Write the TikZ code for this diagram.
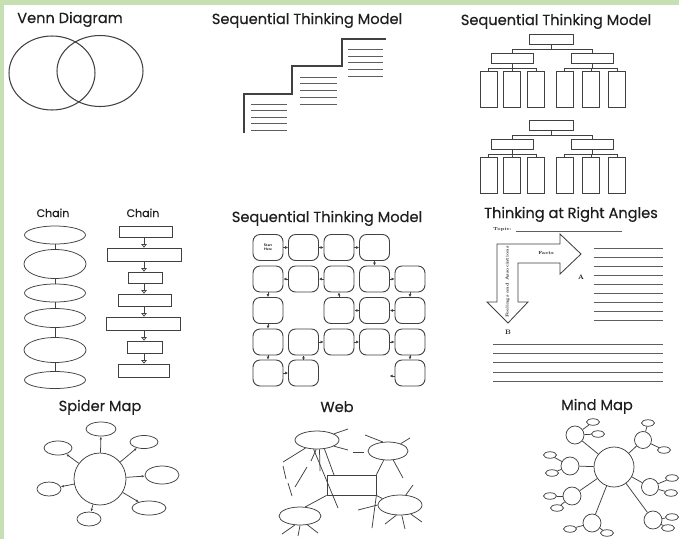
\documentclass[tikz,border=0pt]{standalone}
\usepackage{fontspec}
\newfontfamily\tfont[FakeBold=0.35]{Poppins}
\usetikzlibrary{shapes.geometric,arrows.meta,calc}
\definecolor{bandgreen}{RGB}{198,224,180}
\definecolor{ink}{RGB}{65,65,65}
\definecolor{txt}{RGB}{30,30,30}
\tikzset{
  ln/.style={draw=ink, line width=0.75pt},
  ttl/.style={font=\tfont\fontsize{14.6}{16}\selectfont, text=txt, anchor=base, inner sep=0pt},
  ctl/.style={font=\tfont\fontsize{11}{12}\selectfont, text=txt, anchor=base, inner sep=0pt},
  ell/.style={ellipse, draw=ink, line width=0.75pt, inner sep=0pt},
  circ/.style={circle, draw=ink, line width=0.75pt, inner sep=0pt},
  box/.style={rectangle, draw=ink, line width=0.75pt, inner sep=0pt},
  rbox/.style={rectangle, rounded corners=7pt, draw=ink, line width=0.9pt, minimum width=30pt, minimum height=26pt, inner sep=0pt},
  sarr/.style={draw=ink, line width=1pt, -{Latex[length=3pt,width=3pt]}},
  carr/.style={ln, -{Triangle[open,length=3.5pt,width=5.5pt]}},
  rline/.style={draw=ink!85, line width=0.65pt},
  tiny/.style={font=\bfseries\fontsize{4.5}{5}\selectfont, text=txt, inner sep=0pt},
}
\begin{document}
\begin{tikzpicture}[x=1pt,y=-1pt]
\useasboundingbox (0,0) rectangle (679,539);
\fill[white] (0,0) rectangle (679,539);
\fill[bandgreen] (0,0) rectangle (679,5);
\fill[bandgreen] (0,0) rectangle (3.5,539);

% ---------- Venn Diagram
\node[ttl] (tvenn) at (70,23) {Venn Diagram};
\node[ell, line width=1.05pt, minimum width=86pt, minimum height=74pt] (vl) at (52,73) {};
\node[ell, line width=1.05pt, minimum width=86pt, minimum height=71pt] (vr) at (100,71) {};

% ---------- Sequential Thinking Model (stairs)
\node[ttl] (tstair) at (307,24) {Sequential Thinking Model};
\draw[ink, line width=1.6pt] (244,133) -- (244,94) -- (292,94) -- (292,66) -- (342,66) -- (342,39) -- (386,39);
\foreach \y in {104,110.5,117,123.5,130.5} \draw[rline] (251,\y) -- (287,\y);
\foreach \y in {77,83.5,90.5,97,104} \draw[rline] (300,\y) -- (337,\y);
\foreach \y in {49,56,62.5,69,76.5} \draw[rline] (348,\y) -- (383,\y);

% ---------- Sequential Thinking Model (trees)
\node[ttl] (ttree) at (556,25) {Sequential Thinking Model};
\foreach \k/\dy in {a/0,b/86.5}{
  \node[box, minimum width=44pt, minimum height=10pt] (t\k) at (551,39+\dy) {};
  \node[box, minimum width=42pt, minimum height=10pt] (m\k1) at (512,58+\dy) {};
  \node[box, minimum width=42pt, minimum height=10pt] (m\k2) at (592,58+\dy) {};
  \foreach \i/\x in {1/488.5,2/512,3/536,4/564.5,5/591,6/617}
    \node[box, minimum width=17pt, minimum height=36pt] (l\k\i) at (\x,89+\dy) {};
  \draw[ln] (t\k.south) -- ++(0,4.5) -| (m\k1.north);
  \draw[ln] (t\k.south) -- ++(0,4.5) -| (m\k2.north);
  \foreach \i in {1,2,3} \draw[ln] (m\k1.south) -- ++(0,4.5) -| (l\k\i.north);
  \foreach \i in {4,5,6} \draw[ln] (m\k2.south) -- ++(0,4.5) -| (l\k\i.north);
}

% ---------- Chain (ellipses)
\node[ctl] (tch1) at (53,217) {Chain};
\node[ell, minimum width=61pt, minimum height=18pt] (ce1) at (55,235) {};
\node[ell, minimum width=62pt, minimum height=29pt] (ce2) at (55,264) {};
\node[ell, minimum width=61pt, minimum height=18pt] (ce3) at (55,293) {};
\node[ell, minimum width=61pt, minimum height=19pt] (ce4) at (55,318) {};
\node[ell, minimum width=62pt, minimum height=25pt] (ce5) at (55,350) {};
\node[ell, minimum width=61pt, minimum height=17pt] (ce6) at (55,380) {};
\foreach \a/\b in {ce1/ce2,ce2/ce3,ce3/ce4,ce4/ce5,ce5/ce6} \draw[ln] (\a) -- (\b);

% ---------- Chain (rectangles)
\node[ctl] (tch2) at (143,217) {Chain};
\node[box, minimum width=53pt, minimum height=11pt] (cr1) at (145.5,231.5) {};
\node[box, minimum width=74pt, minimum height=13pt] (cr2) at (144,254.5) {};
\node[box, minimum width=34pt, minimum height=11pt] (cr3) at (145,277.5) {};
\node[box, minimum width=53pt, minimum height=12pt] (cr4) at (144.5,300) {};
\node[box, minimum width=74pt, minimum height=13pt] (cr5) at (143,323.5) {};
\node[box, minimum width=35pt, minimum height=12pt] (cr6) at (144.5,347) {};
\node[box, minimum width=51pt, minimum height=13pt] (cr7) at (143.5,370.5) {};
\foreach \a/\b in {cr1/cr2,cr2/cr3,cr3/cr4,cr4/cr5,cr5/cr6,cr6/cr7} \draw[carr] (\a.south -| 144,0) -- (\b.north -| 144,0);

% ---------- Sequential Thinking Model (rounded boxes)
\node[ttl] (tgrid) at (327,222) {Sequential Thinking Model};
\node[rbox, align=center, font=\sffamily\bfseries\fontsize{3.6}{4.2}\selectfont] (g11) at (268,247.5) {Start\\Here};
\foreach \n/\x/\y in {12/303.5/247.5,13/339/247.5,14/374.5/247.5,
  21/268/279,22/303.5/279,23/339/279,24/374.5/279,25/410/279,
  31/268/310.5,33/339/310.5,34/374.5/310.5,35/410/310.5,
  41/268/342,42/303.5/342,43/339/342,44/374.5/342,45/410/342,
  51/268/373,52/303.5/373,55/410/373}
  \node[rbox] (g\n) at (\x,\y) {};
\foreach \a/\b in {11/12,12/13,13/14,14/24,24/25,25/35,35/34,34/33,33/23,23/22,22/21,21/31,31/41,41/51,51/52,52/42,42/43,43/44,44/45,45/55}
  \draw[sarr] (g\a) -- (g\b);
\coordinate (gend) at ($(g55.west)+(-5,3)$);
\draw[sarr] ($(g55.west)+(0,3)$) -- (gend);

% ---------- Thinking at Right Angles
\node[ttl] (tright) at (571,218) {Thinking at Right Angles};
\node[tiny, anchor=base west] (topic) at (493,230) {Topic:};
\draw[rline] (516,231) -- (622,231);
\draw[ink, line width=0.85pt, line join=miter] (497,244) -- (560,244) -- (560,234) -- (581,254) -- (560,274) -- (560,263)
  -- (518,263) -- (518,302) -- (528,302) -- (508,323) -- (487,302) -- (497,302) -- cycle;
\node[tiny] (facts) at (546,253) {Facts};
\node[tiny, rotate=90, font=\bfseries\fontsize{4.2}{5}\selectfont] (feel) at (507.5,282) {Feelings and Associations};
\node[font=\bfseries\fontsize{6.5}{7}\selectfont, text=txt, inner sep=0pt] (la) at (581,277) {A};
\node[font=\bfseries\fontsize{6.5}{7}\selectfont, text=txt, inner sep=0pt] (lb) at (508,332) {B};
\foreach \i in {0,...,8} \draw[rline] (594,248+9.1*\i) -- (663,248+9.1*\i);
\foreach \i in {0,...,4} \draw[rline] (493,344+9.3*\i) -- (663,344+9.3*\i);

% ---------- Spider Map
\node[ttl] (tspider) at (100,411) {Spider Map};
\node[circ, minimum size=52pt] (sc) at (100,479) {};
\node[ell, minimum width=30pt, minimum height=14pt] (ss1) at (101,429) {};
\node[ell, minimum width=28pt, minimum height=14pt] (ss2) at (58,448) {};
\node[ell, minimum width=28pt, minimum height=13pt] (ss3) at (144,442) {};
\node[ell, minimum width=34pt, minimum height=18pt] (ss4) at (162,475) {};
\node[ell, minimum width=24pt, minimum height=14pt] (ss5) at (49,489) {};
\node[ell, minimum width=34pt, minimum height=14pt] (ss6) at (149,508) {};
\node[ell, minimum width=24pt, minimum height=14pt] (ss7) at (89,519) {};
\foreach \s in {ss1,ss2,ss3,ss4,ss5,ss6,ss7} \draw[ln, -{Latex[length=3pt,width=2.5pt]}] (sc) -- (\s);

% ---------- Web
\node[ttl] (tweb) at (337,412) {Web};
\node[ell, minimum width=44pt, minimum height=18pt] (w1) at (317,440) {};
\node[ell, minimum width=40pt, minimum height=18pt] (w2) at (388,451) {};
\node[ell, minimum width=44pt, minimum height=20pt] (w3) at (400,505) {};
\node[ell, minimum width=42pt, minimum height=18pt] (w4) at (300,516) {};
\node[box, minimum width=49pt, minimum height=20pt] (wr) at (351.5,485) {};
\draw[ln] (w1.20) -- (348,429);
\draw[ln] (w1.-20) -- (348,450);
\draw[ln] (w1.215) -- (283,462);
\draw[ln] (283,466) -- (286,479);
\draw[ln] (288,483) -- (292,496);
\draw[ln] (w1.250) -- (338,508);
\draw[ln] (w1.-95) -- (311,461);
\draw[ln] (w1.-75) -- (320,471);
\draw[ln] (w1.-50) -- (334,475);
\draw[ln] (307,467) -- (295,487);
\draw[ln] (wr.south west) -- (w4.60);
\draw[ln] (w2.120) -- (365,435);
\draw[ln] (353,452) -- (364,452);
\draw[ln] (w2.30) -- (410,438);
\draw[ln] (w2.-60) -- (403,478);
\draw[ln] (w2.-115) -- (wr.north east);
\draw[ln] (wr.south east) -- (w3.160);
\draw[ln] (wr.south east) -- (372,528);
\draw[ln] (w3.60) -- (413,485);
\draw[ln] (w3.180) -- (358,510);
\draw[ln] (w3.-110) -- (385,524);
\draw[ln] (w3.-80) -- (405,529);
\draw[ln] (w3.-40) -- (422,522);
\draw[ln] (w4.-120) -- (282,534);
\draw[ln] (w4.-90) -- (298,536);
\draw[ln] (w4.-50) -- (318,533);

% ---------- Mind Map
\node[ttl] (tmind) at (597,410) {Mind Map};
\node[circ, minimum size=40pt] (mm) at (614,467) {};
\foreach \n/\x/\y/\d in {1/575/435/18,2/643/440/17,3/570/466/18,4/650/487/17,5/572/496/18,6/592/523/18,7/653/520/18}{
  \node[circ, minimum size=\d pt] (mm\n) at (\x,\y) {};
  \draw[ln] (mm) -- (mm\n);
}
\foreach \n/\k/\x/\y in {1/a/593/422,1/b/598/434,2/a/648/423,2/b/664/450,3/a/550/455,3/b/552/473,
  4/a/672/478,4/b/671/493,5/a/550/496,5/b/557/508,6/a/570/529,6/b/607/533,7/a/672/517,7/b/668/528}{
  \node[ell, minimum width=13pt, minimum height=6.5pt] (ml\n\k) at (\x,\y) {};
  \draw[ln] (mm\n) -- (ml\n\k);
}
\end{tikzpicture}
\end{document}
